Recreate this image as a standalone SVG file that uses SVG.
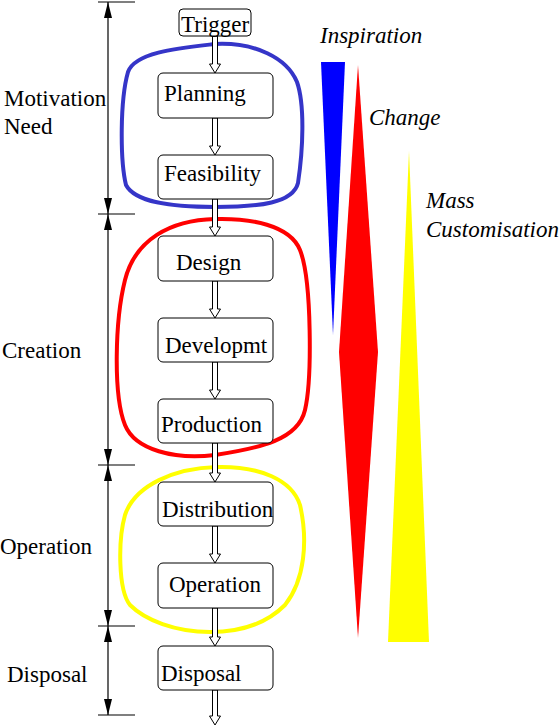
<svg xmlns="http://www.w3.org/2000/svg" width="560" height="727" viewBox="0 0 560 727">
<style>
.box{fill:#fff;stroke:#000;stroke-width:1}
text{font-family:'Liberation Serif','DejaVu Serif','Times New Roman',Times,serif;font-size:23px;fill:#000}
.it{font-style:italic}
.blob{fill:none;stroke-width:4}
.arr{fill:#fff;stroke:#000;stroke-width:1}
.dim{stroke:#000;stroke-width:1.2;fill:none}
.ah{fill:#000}
</style>
<rect width="560" height="727" fill="#fff"/>
<g id="dimension">
<line class="dim" x1="108" y1="2" x2="108" y2="715"/>
<line class="dim" x1="98" y1="2" x2="135" y2="2"/>
<line class="dim" x1="98" y1="214" x2="135" y2="214"/>
<line class="dim" x1="98" y1="465" x2="135" y2="465"/>
<line class="dim" x1="98" y1="626" x2="135" y2="626"/>
<line class="dim" x1="98" y1="715" x2="135" y2="715"/>
<polygon class="ah" points="108,2 104,18 112,18"/>
<polygon class="ah" points="108,214 104,198 112,198"/>
<polygon class="ah" points="108,214 104,230 112,230"/>
<polygon class="ah" points="108,465 104,449 112,449"/>
<polygon class="ah" points="108,465 104,481 112,481"/>
<polygon class="ah" points="108,626 104,610 112,610"/>
<polygon class="ah" points="108,626 104,642 112,642"/>
<polygon class="ah" points="108,715 104,699 112,699"/>
</g>
<g id="stage-labels">
<text x="4" y="106">Motivation</text>
<text x="4" y="134">Need</text>
<text x="2" y="358">Creation</text>
<text x="0" y="554">Operation</text>
<text x="7" y="682">Disposal</text>
</g>
<g id="blobs">
<path class="blob" stroke="#3535c8" d="M 215 44 C 255 42, 287 58, 297 82 C 305 105, 303 150, 298 183 C 293 203, 260 207, 215 207 C 170 207, 135 202, 126 185 C 120 160, 120 100, 128 72 C 135 52, 180 48, 215 44 Z"/>
<path class="blob" stroke="#ff0000" d="M 215 219 C 250 218, 290 225, 300 250 C 312 280, 312 380, 305 410 C 298 440, 260 448, 215 455 C 175 460, 135 450, 125 425 C 113 395, 115 320, 125 280 C 135 240, 170 220, 215 219 Z"/>
<path class="blob" stroke="#ffff00" d="M 217 467 C 260 466, 292 480, 300 505 C 308 540, 305 580, 285 605 C 265 625, 240 632, 210 632 C 175 632, 145 620, 130 605 C 118 590, 118 540, 125 515 C 135 485, 175 468, 217 467 Z"/>
</g>
<g id="connectors">
<polygon class="arr" points="212.5,36 217.5,36 217.5,64 220.5,64 215,73 209.5,64 212.5,64"/>
<polygon class="arr" points="212.5,118 217.5,118 217.5,146 220.5,146 215,155 209.5,146 212.5,146"/>
<polygon class="arr" points="212.5,199 217.5,199 217.5,227 220.5,227 215,236 209.5,227 212.5,227"/>
<polygon class="arr" points="212.5,281 217.5,281 217.5,309 220.5,309 215,318 209.5,309 212.5,309"/>
<polygon class="arr" points="212.5,362 217.5,362 217.5,390 220.5,390 215,399 209.5,390 212.5,390"/>
<polygon class="arr" points="212.5,443 217.5,443 217.5,473 220.5,473 215,482 209.5,473 212.5,473"/>
<polygon class="arr" points="212.5,526 217.5,526 217.5,554 220.5,554 215,563 209.5,554 212.5,554"/>
<polygon class="arr" points="212.5,608 217.5,608 217.5,637 220.5,637 215,646 209.5,637 212.5,637"/>
<polygon class="arr" points="212.5,690 217.5,690 217.5,716 220.5,716 215,725 209.5,716 212.5,716"/>
</g>
<g id="trigger"><rect class="box" x="179" y="9" width="72" height="27" rx="4"/><text x="181" y="32">Trigger</text></g>
<g id="planning"><rect class="box" x="158" y="73" width="115" height="45" rx="5"/><text x="164" y="101">Planning</text></g>
<g id="feasibility"><rect class="box" x="158" y="155" width="115" height="44" rx="5"/><text x="164" y="181">Feasibility</text></g>
<g id="design"><rect class="box" x="158" y="236" width="115" height="45" rx="5"/><text x="176" y="270">Design</text></g>
<g id="developmt"><rect class="box" x="158" y="318" width="115" height="44" rx="5"/><text x="165" y="353">Developmt</text></g>
<g id="production"><rect class="box" x="158" y="399" width="115" height="44" rx="5"/><text x="161" y="432">Production</text></g>
<g id="distribution"><rect class="box" x="158" y="482" width="115" height="44" rx="5"/><text x="162" y="517">Distribution</text></g>
<g id="operation"><rect class="box" x="158" y="563" width="115" height="45" rx="5"/><text x="169" y="592">Operation</text></g>
<g id="disposal"><rect class="box" x="158" y="646" width="115" height="44" rx="5"/><text x="161" y="681">Disposal</text></g>
<g id="trends">
<polygon fill="#0000ff" points="321,62 345,62 333,335"/>
<polygon fill="#ff0000" points="358,65 378,352 358,638 339,352"/>
<polygon fill="#ffff00" points="409,151 429,642 388,642"/>
<text class="it" x="320" y="43">Inspiration</text>
<text class="it" x="369" y="125">Change</text>
<text class="it" x="426" y="208">Mass</text>
<text class="it" x="426" y="237">Customisation</text>
</g>
</svg>
